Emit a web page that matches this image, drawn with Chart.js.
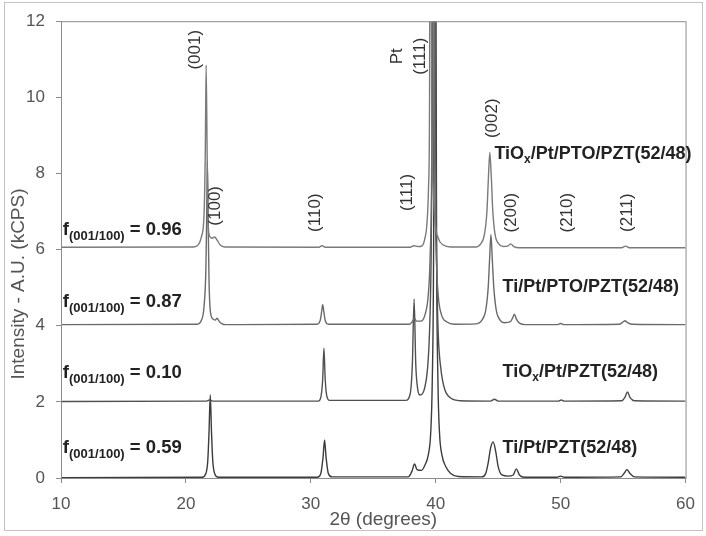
<!DOCTYPE html>
<html>
<head>
<meta charset="utf-8">
<script src="https://cdn.jsdelivr.net/npm/chart.js@4.4.1/dist/chart.umd.min.js"></script>
<style>
  html, body { margin: 0; padding: 0; background: #fff; }
  #wrap { position: relative; width: 706px; height: 536px; }
  #frame { position: absolute; left: 4px; top: 2px; width: 697px; height: 527px; border: 1px solid #c4c4c4; pointer-events: none; }
  canvas { position: absolute; left: 0; top: 0; }
</style>
</head>
<body>
<div id="wrap">
  <canvas id="xrd" width="706" height="536"></canvas>
  <div id="frame"></div>
</div>
<script>
// 2-theta / intensity pairs (traces are offset by 2 kCPS each)
const tiOxPtPtoPzt = [
  [10, 6.06], [20.6, 6.07], [21.0, 6.13], [21.25, 6.35], [21.45, 6.9], [21.55, 8.5], [21.62, 10.85],
  [21.7, 8.5], [21.78, 6.7], [21.9, 6.35], [22.1, 6.3], [22.3, 6.33], [22.5, 6.25], [22.75, 6.12],
  [23.1, 6.07], [30.6, 6.06], [30.9, 6.1], [31.2, 6.06], [37.9, 6.06], [38.25, 6.1], [38.6, 6.08],
  [38.9, 6.1], [39.1, 6.25], [39.3, 6.7], [39.42, 7.6], [39.5, 9.5], [39.58, 20], [39.68, 9.5],
  [39.8, 7.6], [39.95, 6.7], [40.2, 6.3], [40.6, 6.12], [41.2, 6.07], [43.2, 6.07], [43.6, 6.15],
  [43.9, 6.4], [44.1, 7.0], [44.22, 7.9], [44.33, 8.55], [44.45, 7.9], [44.57, 7.0], [44.75, 6.4],
  [45.05, 6.15], [45.4, 6.08], [45.8, 6.1], [46.0, 6.15], [46.25, 6.08], [46.7, 6.05], [54.9, 6.05],
  [55.2, 6.09], [55.5, 6.05], [60, 6.05]
];
const tiPtPtoPzt = [
  [10, 4.03], [20.9, 4.04], [21.25, 4.15], [21.45, 4.5], [21.6, 5.5], [21.66, 6.8], [21.72, 8.3],
  [21.78, 6.8], [21.85, 5.2], [21.95, 4.4], [22.15, 4.18], [22.35, 4.15], [22.5, 4.2], [22.65, 4.12],
  [22.9, 4.05], [23.2, 4.03], [30.5, 4.04], [30.75, 4.14], [30.88, 4.4], [30.95, 4.55], [31.03, 4.4],
  [31.15, 4.14], [31.4, 4.04], [37.9, 4.04], [38.15, 4.12], [38.3, 4.2], [38.45, 4.12], [38.8, 4.12],
  [39.15, 4.3], [39.4, 4.8], [39.55, 5.8], [39.68, 8.5], [39.8, 20], [39.92, 8.5], [40.05, 5.8],
  [40.2, 4.8], [40.45, 4.3], [40.9, 4.1], [41.5, 4.04], [43.2, 4.05], [43.7, 4.15], [44.0, 4.4],
  [44.2, 5.0], [44.32, 5.8], [44.42, 6.4], [44.52, 5.8], [44.65, 5.0], [44.85, 4.4], [45.15, 4.15],
  [45.5, 4.08], [45.95, 4.1], [46.15, 4.2], [46.3, 4.3], [46.45, 4.18], [46.7, 4.07], [47.2, 4.03],
  [49.7, 4.03], [50.0, 4.06], [50.3, 4.03], [54.7, 4.04], [55.0, 4.1], [55.15, 4.13], [55.35, 4.08],
  [55.7, 4.04], [60, 4.03]
];
const tiOxPtPzt = [
  [10, 2.01], [21.6, 2.02], [21.9, 2.05], [22.2, 2.02], [30.6, 2.02], [30.82, 2.15], [30.95, 2.6],
  [31.05, 3.41], [31.15, 2.6], [31.28, 2.15], [31.5, 2.04], [37.6, 2.04], [37.95, 2.2], [38.13, 3.0],
  [38.27, 4.7], [38.4, 3.0], [38.55, 2.35], [38.75, 2.18], [39.1, 2.35], [39.35, 2.9], [39.5, 3.8],
  [39.62, 5.5], [39.72, 9], [39.85, 20], [39.98, 9], [40.08, 5.5], [40.2, 3.8], [40.4, 2.9],
  [40.7, 2.35], [41.2, 2.1], [42, 2.03], [44.4, 2.02], [44.7, 2.07], [45.0, 2.02], [49.8, 2.02],
  [50.05, 2.05], [50.3, 2.02], [54.9, 2.03], [55.15, 2.12], [55.35, 2.26], [55.55, 2.12],
  [55.9, 2.03], [60, 2.02]
];
const tiPtPzt = [
  [10, 0.01], [21.3, 0.02], [21.6, 0.12], [21.75, 0.45], [21.85, 1.2], [21.95, 2.18], [22.05, 1.2],
  [22.15, 0.45], [22.3, 0.12], [22.6, 0.02], [30.5, 0.02], [30.8, 0.12], [30.98, 0.55], [31.1, 1.0],
  [31.22, 0.55], [31.4, 0.12], [31.7, 0.03], [37.8, 0.03], [38.1, 0.18], [38.3, 0.37], [38.5, 0.22],
  [38.85, 0.2], [39.15, 0.35], [39.4, 0.6], [39.6, 1.2], [39.72, 2.5], [39.83, 6], [39.95, 20],
  [40.07, 6], [40.18, 2.5], [40.3, 1.2], [40.5, 0.6], [40.8, 0.3], [41.2, 0.12], [41.8, 0.04],
  [43.7, 0.03], [44.0, 0.12], [44.2, 0.4], [44.4, 0.8], [44.6, 0.95], [44.8, 0.7], [45.0, 0.3],
  [45.3, 0.08], [45.8, 0.05], [46.2, 0.08], [46.45, 0.24], [46.7, 0.08], [47.1, 0.02], [49.7, 0.02],
  [50.0, 0.05], [50.3, 0.02], [54.8, 0.03], [55.1, 0.13], [55.3, 0.22], [55.55, 0.12], [55.9, 0.03],
  [60, 0.02]
];

const xTickValues = [10, 20, 30, 40, 50, 60];
const yTickValues = [0, 2, 4, 6, 8, 10, 12];

// rotated reflection labels: text, 2theta, intensity at label centre
const peakLabels = [
  ['(001)', 20.75, 11.25], ['(100)', 22.35, 7.15], ['(110)', 30.35, 6.97], ['(111)', 37.75, 7.5],
  ['Pt', 36.95, 11.08], ['(111)', 38.8, 11.08], ['(002)', 44.55, 9.45], ['(200)', 46.05, 6.97],
  ['(210)', 50.55, 6.97], ['(211)', 55.35, 6.97]
];
// sample names: text parts (normal, subscript, normal), 2theta of left edge, intensity at baseline
const sampleNames = [
  [['TiO', 'x', '/Pt/PTO/PZT(52/48)'], 44.7, 8.37],
  [['Ti/Pt/PTO/PZT(52/48)'], 45.35, 4.89],
  [['TiO', 'x', '/Pt/PZT(52/48)'], 45.35, 2.66],
  [['Ti/Pt/PZT(52/48)'], 45.35, 0.66]
];
const fractions = [['0.96', 6.38], ['0.87', 4.49], ['0.10', 2.62], ['0.59', 0.66]];

const FONT = "'Liberation Sans', Arial, Helvetica, sans-serif";

function richText(ctx, parts, x, y, big, small, drop) {
  parts.forEach((p, i) => {
    const sub = i % 2 === 1;
    ctx.font = 'bold ' + (sub ? small : big) + 'px ' + FONT;
    ctx.fillText(p, x, sub ? y + drop : y);
    x += ctx.measureText(p).width;
  });
}

const overlay = {
  id: 'overlay',
  afterDatasetsDraw(chart) {
    const { ctx, chartArea: a, scales: { x, y } } = chart;
    ctx.save();
    ctx.strokeStyle = '#8c8c8c';
    ctx.lineWidth = 1;
    ctx.strokeRect(a.left + 0.5, a.top + 0.5, a.right - a.left, a.bottom - a.top);

    ctx.fillStyle = '#333';
    ctx.font = '17px ' + FONT;
    ctx.textAlign = 'center';
    ctx.textBaseline = 'middle';
    peakLabels.forEach(([t, px, py]) => {
      ctx.save();
      ctx.translate(x.getPixelForValue(px), y.getPixelForValue(py));
      ctx.rotate(-Math.PI / 2);
      ctx.fillText(t, 0, 0);
      ctx.restore();
    });

    ctx.textAlign = 'left';
    ctx.textBaseline = 'alphabetic';
    ctx.fillStyle = '#222';
    sampleNames.forEach(([parts, px, py]) => {
      richText(ctx, parts, x.getPixelForValue(px), y.getPixelForValue(py), 18, 12, 4);
    });
    fractions.forEach(([v, py]) => {
      richText(ctx, ['f', '(001/100)', ' = ' + v], x.getPixelForValue(10.15), y.getPixelForValue(py), 18.5, 13, 5);
    });

    // axis titles
    ctx.fillStyle = '#555';
    ctx.font = '19px ' + FONT;
    ctx.textAlign = 'center';
    ctx.textBaseline = 'middle';
    ctx.fillText('2\u03b8 (degrees)', (a.left + a.right) / 2 + 10, 520);
    ctx.save();
    ctx.translate(19, 284);
    ctx.rotate(-Math.PI / 2);
    ctx.fillText('Intensity - A.U. (kCPS)', 0, 0);
    ctx.restore();
    ctx.restore();
  }
};

const traceColors = ['#7a7a7a', '#6a6a6a', '#505050', '#3c3c3c'];
const toPoints = arr => arr.map(([x, y]) => ({ x, y }));

new Chart(document.getElementById('xrd').getContext('2d'), {
  type: 'line',
  data: {
    datasets: [tiOxPtPtoPzt, tiPtPtoPzt, tiOxPtPzt, tiPtPzt].map((d, i) => ({
      data: toPoints(d),
      borderColor: traceColors[i],
      borderWidth: 1.4,
      pointRadius: 0,
      cubicInterpolationMode: 'monotone',
      fill: false
    }))
  },
  options: {
    responsive: false,
    animation: false,
    layout: { padding: { top: 21, right: 10, left: 0, bottom: 0 } },
    plugins: { legend: { display: false }, tooltip: { enabled: false } },
    scales: {
      x: {
        type: 'linear', min: 10, max: 60,
        afterBuildTicks: s => { s.ticks = xTickValues.map(v => ({ value: v })); },
        afterFit: s => { s.height = 58; },
        grid: { drawOnChartArea: false, tickLength: 5, color: '#8c8c8c' },
        border: { color: '#8c8c8c' },
        ticks: { color: '#555', font: { family: FONT, size: 17 }, padding: 11, maxRotation: 0 }
      },
      y: {
        min: 0, max: 12,
        afterBuildTicks: s => { s.ticks = yTickValues.map(v => ({ value: v })); },
        afterFit: s => { s.width = 61; },
        grid: { drawOnChartArea: false, tickLength: 5, color: '#8c8c8c' },
        border: { color: '#8c8c8c' },
        ticks: { color: '#555', font: { family: FONT, size: 17 }, padding: 11 }
      }
    }
  },
  plugins: [overlay]
});
</script>
</body>
</html>
